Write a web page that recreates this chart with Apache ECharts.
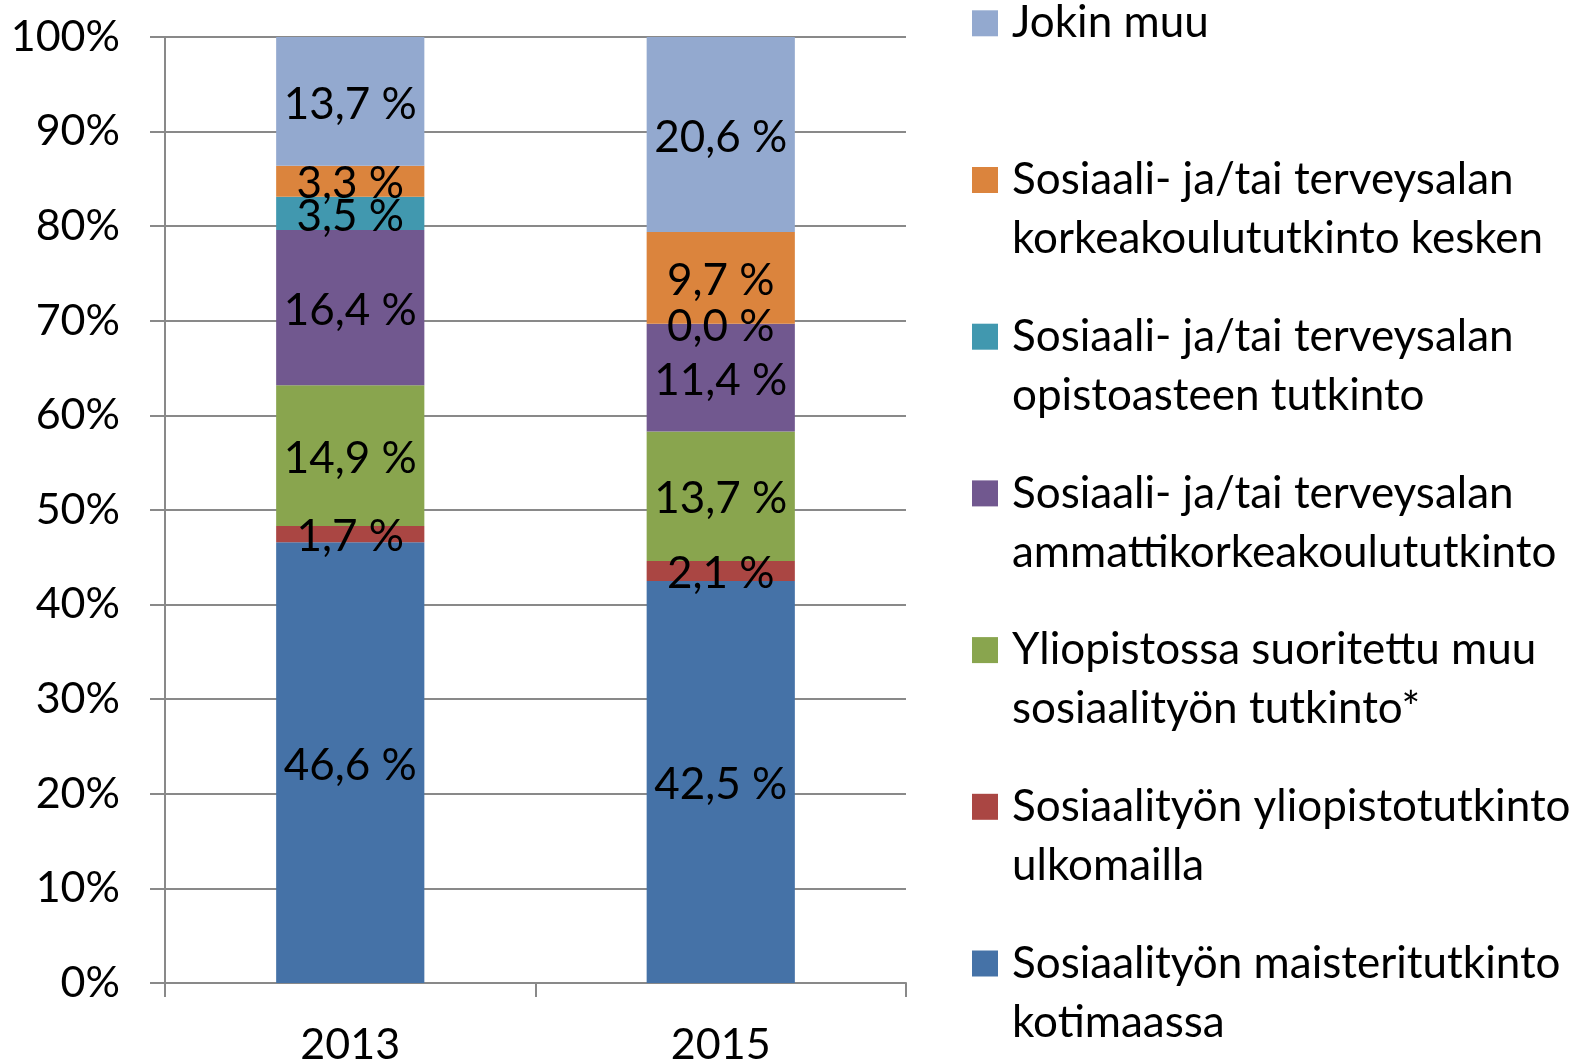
<!DOCTYPE html>
<html>
<head>
<meta charset="utf-8">
<script src="https://cdn.jsdelivr.net/npm/echarts@6/dist/echarts.min.js"></script>
<style>
  html, body { margin: 0; padding: 0; background: #ffffff; }
  #chart { width: 1587px; height: 1063px; }
</style>
</head>
<body>
<div id="chart"></div>
<script>
const categories = ['2013', '2015'];

const seriesNames = [
  'Sosiaalityön maisteritutkinto\nkotimaassa',
  'Sosiaalityön yliopistotutkinto\nulkomailla',
  'Yliopistossa suoritettu muu\nsosiaalityön tutkinto*',
  'Sosiaali- ja/tai terveysalan\nammattikorkeakoulututkinto',
  'Sosiaali- ja/tai terveysalan\nopistoasteen tutkinto',
  'Sosiaali- ja/tai terveysalan\nkorkeakoulututkinto kesken',
  'Jokin muu'
];

const maisteriKotimaassa = [46.6, 42.5];
const yliopistoUlkomailla = [1.7, 2.1];
const yliopistoMuu = [14.9, 13.7];
const ammattikorkea = [16.4, 11.4];
const opistoaste = [3.5, 0.0];
const korkeakouluKesken = [3.3, 9.7];
const jokinMuu = [13.7, 20.6];

const seriesValues = [maisteriKotimaassa, yliopistoUlkomailla, yliopistoMuu, ammattikorkea, opistoaste, korkeakouluKesken, jokinMuu];
const colors = ['#4572A7', '#AA4643', '#89A54E', '#71588F', '#4198AF', '#DB843D', '#93A9CF'];

const yTicks = { min: 0, max: 100, interval: 10 };

const FONT = 'Lato, "Open Sans", sans-serif';
const FS_AXIS = 43;
const FS_LABEL = 44;
const FS_LEGEND = 44;
const LH = 59;
const gridColor = '#898989';

const chart = echarts.init(document.getElementById('chart'), null, { renderer: 'canvas' });

const legendOrder = seriesNames.slice().reverse();

const option = {
  animation: false,
  backgroundColor: '#ffffff',
  textStyle: { fontFamily: FONT },
  grid: { left: 165, top: 37, width: 741, height: 946, containLabel: false, outerBoundsMode: 'none' },
  legend: {
    orient: 'vertical',
    left: 972,
    top: 23.3 - 1.5 * LH,
    padding: 0,
    itemWidth: 26,
    itemHeight: 26,
    itemGap: 156.7 - 3 * LH,
    selectedMode: false,
    icon: 'rect',
    textStyle: { fontFamily: FONT, fontSize: FS_LEGEND, color: '#000', lineHeight: LH, padding: [0, 0, 0, 9] },
    formatter: function (name) {
      return name.indexOf('\n') < 0 ? ' \n' + name + '\n ' : ' \n' + name;
    },
    data: legendOrder
  },
  xAxis: {
    type: 'category',
    data: categories,
    boundaryGap: true,
    axisLine: { show: true, lineStyle: { color: gridColor, width: 2 } },
    axisTick: { show: true, length: 14, alignWithLabel: false, lineStyle: { color: gridColor, width: 2 } },
    axisLabel: { fontFamily: FONT, fontSize: FS_AXIS, color: '#000', margin: 62, verticalAlign: 'middle' },
    splitLine: { show: false }
  },
  yAxis: {
    type: 'value',
    min: yTicks.min,
    max: yTicks.max,
    interval: yTicks.interval,
    axisLine: { show: true, lineStyle: { color: gridColor, width: 2 } },
    axisTick: { show: true, length: 15, lineStyle: { color: gridColor, width: 2 } },
    axisLabel: {
      fontFamily: FONT, fontSize: FS_AXIS, color: '#000', margin: 45,
      formatter: function (v) { return v + '%'; }
    },
    splitLine: { show: true, lineStyle: { color: gridColor, width: 2 } }
  },
  series: seriesNames.map(function (name, i) {
    return {
      name: name,
      type: 'bar',
      stack: 'total',
      barWidth: '40%',
      clip: true,
      itemStyle: { color: colors[i] },
      label: {
        show: true,
        position: 'inside',
        offset: [0, 3],
        fontFamily: FONT,
        fontSize: FS_LABEL,
        color: '#000',
        formatter: function (p) { return p.value.toFixed(1).replace('.', ',') + ' %'; }
      },
      emphasis: { disabled: true },
      data: seriesValues[i]
    };
  })
};

chart.setOption(option);
</script>
</body>
</html>
